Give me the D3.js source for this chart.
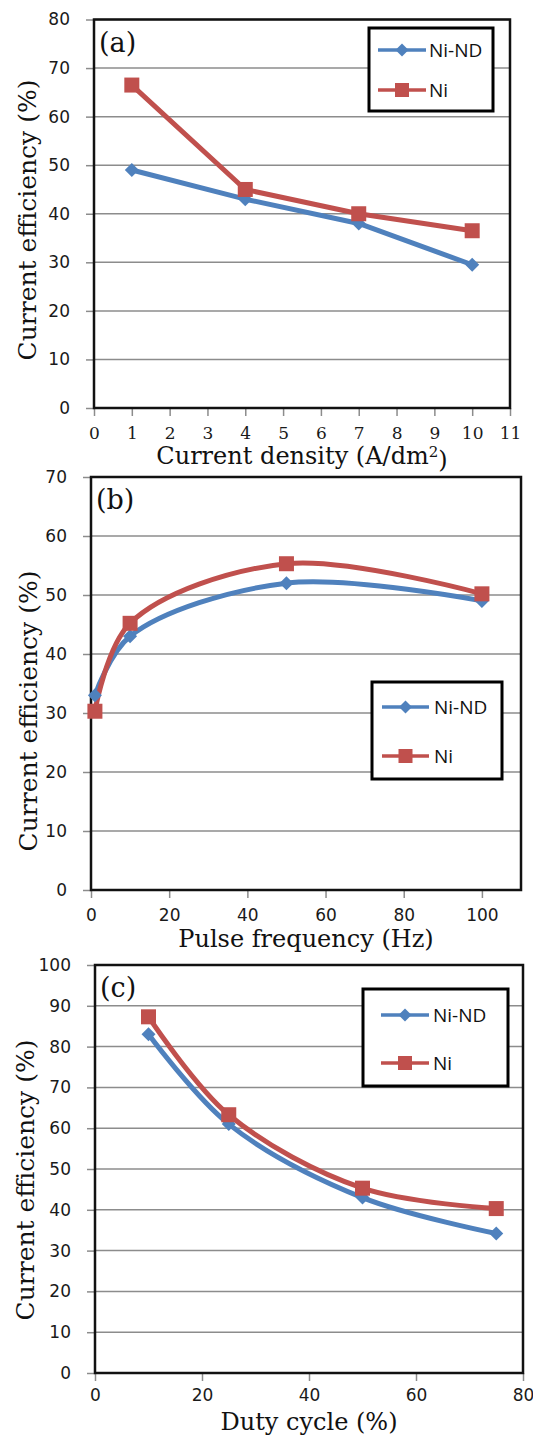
<!DOCTYPE html>
<html lang="en">
<head>
<meta charset="UTF-8">
<title>Current efficiency vs density, frequency and duty cycle</title>
<script src="https://d3js.org/d3.v7.min.js"></script>
<style>
  body { margin: 0; background: #fff; }
  svg { display: block; }
</style>
</head>
<body>
<svg width="533" height="1436"></svg>
<script>
// series names and colours
const seriesNames = ["Ni-ND", "Ni"];
const seriesColors = ["#4f81bd", "#c0504d"];

// (a) current density
const densityX = [1, 4, 7, 10];
const densityNiND = [49, 43, 38, 29.5];
const densityNi = [66.5, 45, 40, 36.5];
const densityTicks = [0, 1, 2, 3, 4, 5, 6, 7, 8, 9, 10, 11];
const densityYTicks = [0, 10, 20, 30, 40, 50, 60, 70, 80];

// (b) pulse frequency
const freqX = [1, 10, 50, 100];
const freqNiND = [33, 43, 52, 49];
const freqNi = [30.3, 45.2, 55.3, 50.2];
const freqTicks = [0, 20, 40, 60, 80, 100];
const freqYTicks = [0, 10, 20, 30, 40, 50, 60, 70];

// (c) duty cycle
const dutyX = [10, 25, 50, 75];
const dutyNiND = [83, 61, 43, 34.2];
const dutyNi = [87.3, 63.3, 45.3, 40.3];
const dutyTicks = [0, 20, 40, 60, 80];
const dutyYTicks = [0, 10, 20, 30, 40, 50, 60, 70, 80, 90, 100];

const svg = d3.select("svg");

const panels = [
  { tag: "(a)", x: densityX, ys: [densityNiND, densityNi], xTicks: densityTicks, yTicks: densityYTicks,
    xMax: 11, yMax: 80, box: { l: 94, r: 510, t: 19.5, b: 408 }, smooth: false, serifX: true,
    xTitle: "Current density (A/dm", sup: "2", xTitleY: 464, yTitleX: 36, yTitleY: 220, xPad: 11,
    legend: { l: 369, r: 493, t: 28, b: 111, rows: [50, 90], lineX: [378, 426], textX: 429 } },
  { tag: "(b)", x: freqX, ys: [freqNiND, freqNi], xTicks: freqTicks, yTicks: freqYTicks,
    xMax: 110, yMax: 70, box: { l: 91, r: 521, t: 477, b: 890 }, smooth: true, serifX: false,
    xTitle: "Pulse frequency (Hz)", xTitleY: 947, yTitleX: 37, yTitleY: 711, xPad: 11,
    legend: { l: 372, r: 502, t: 682, b: 779, rows: [707, 756], lineX: [382, 429], textX: 434 } },
  { tag: "(c)", x: dutyX, ys: [dutyNiND, dutyNi], xTicks: dutyTicks, yTicks: dutyYTicks,
    xMax: 80, yMax: 100, box: { l: 95, r: 523, t: 965, b: 1373 }, smooth: true, serifX: false,
    xTitle: "Duty cycle (%)", xTitleY: 1430, yTitleX: 34, yTitleY: 1180, xPad: 8,
    legend: { l: 363, r: 508, t: 989, b: 1086, rows: [1015, 1063], lineX: [381, 429], textX: 433 } }
];

function marker(sel, i, size) {
  if (i === 0) {
    const h = size / 2;
    sel.append("path").attr("d", `M0,${-h}L${h},0L0,${h}L${-h},0Z`).attr("fill", seriesColors[0]);
  } else {
    sel.append("rect").attr("x", -size / 2).attr("y", -size / 2)
      .attr("width", size).attr("height", size).attr("fill", seriesColors[1]);
  }
}

panels.forEach(p => {
  const b = p.box;
  const x = d3.scaleLinear().domain([0, p.xMax]).range([b.l, b.r]);
  const y = d3.scaleLinear().domain([0, p.yMax]).range([b.b, b.t]);
  const g = svg.append("g");

  // gridlines
  g.selectAll(".grid").data(p.yTicks).join("line")
    .attr("x1", b.l).attr("x2", b.r)
    .attr("y1", d => y(d)).attr("y2", d => y(d))
    .attr("stroke", "#8c8c8c").attr("stroke-width", 1.5);

  // axes
  const ya = g.append("g").attr("transform", `translate(${b.l},0)`)
    .call(d3.axisLeft(y).tickValues(p.yTicks).tickSize(8).tickPadding(16));
  ya.select(".domain").remove();
  ya.selectAll("line").attr("stroke", "#8c8c8c").attr("stroke-width", 1.5);
  ya.selectAll("text").attr("font-family", "'DejaVu Sans', sans-serif")
    .attr("font-size", 17).attr("fill", "#1a1a1a");

  const xa = g.append("g").attr("transform", `translate(0,${b.b})`)
    .call(d3.axisBottom(x).tickValues(p.xTicks).tickSize(8).tickPadding(p.xPad));
  xa.select(".domain").remove();
  xa.selectAll("line").attr("stroke", "#8c8c8c").attr("stroke-width", 1.5);
  xa.selectAll("text")
    .attr("font-family", p.serifX ? "'DejaVu Serif', serif" : "'DejaVu Sans', sans-serif")
    .attr("font-size", 17).attr("fill", "#1a1a1a");

  // frame
  g.append("rect").attr("x", b.l).attr("y", b.t)
    .attr("width", b.r - b.l).attr("height", b.b - b.t)
    .attr("fill", "none").attr("stroke", "#111").attr("stroke-width", 2.5);

  // series
  const line = d3.line()
    .x(d => x(d[0])).y(d => y(d[1]))
    .curve(p.smooth ? d3.curveCatmullRom.alpha(0.5) : d3.curveLinear);
  p.ys.forEach((vals, i) => {
    const pts = p.x.map((v, k) => [v, vals[k]]);
    g.append("path").datum(pts).attr("d", line)
      .attr("fill", "none").attr("stroke", seriesColors[i])
      .attr("stroke-width", 5).attr("stroke-linejoin", "round");
  });
  p.ys.forEach((vals, i) => {
    p.x.forEach((v, k) => {
      const m = g.append("g").attr("transform", `translate(${x(v)},${y(vals[k])})`);
      marker(m, i, i === 0 ? 14 : 15);
    });
  });

  // panel tag
  g.append("text").attr("x", b.l + 5).attr("y", b.t + 32)
    .attr("font-family", "'DejaVu Serif', serif").attr("font-size", 27)
    .attr("fill", "#111").text(p.tag);

  // legend
  const L = p.legend;
  g.append("rect").attr("x", L.l).attr("y", L.t)
    .attr("width", L.r - L.l).attr("height", L.b - L.t)
    .attr("fill", "#fff").attr("stroke", "#000").attr("stroke-width", 3);
  seriesNames.forEach((name, i) => {
    const ry = L.rows[i];
    g.append("line").attr("x1", L.lineX[0]).attr("x2", L.lineX[1])
      .attr("y1", ry).attr("y2", ry)
      .attr("stroke", seriesColors[i]).attr("stroke-width", 3.5);
    const m = g.append("g").attr("transform", `translate(${(L.lineX[0] + L.lineX[1]) / 2},${ry})`);
    marker(m, i, i === 0 ? 13 : 14);
    g.append("text").attr("x", L.textX).attr("y", ry).attr("dy", "0.35em")
      .attr("font-family", "'Open Sans', sans-serif").attr("font-size", 19)
      .attr("fill", "#111").text(name);
  });

  // axis titles
  const xt = g.append("text").attr("x", (b.l + b.r) / 2).attr("y", p.xTitleY)
    .attr("text-anchor", "middle").attr("font-family", "'DejaVu Serif', serif")
    .attr("font-size", 24).attr("fill", "#111").text(p.xTitle);
  if (p.sup) {
    xt.append("tspan").attr("dy", "-0.45em").attr("font-size", 15).text(p.sup);
    xt.append("tspan").attr("dy", "0.45em").text(")");
  }
  g.append("text").attr("transform", `translate(${p.yTitleX},${p.yTitleY}) rotate(-90)`)
    .attr("text-anchor", "middle").attr("font-family", "'DejaVu Serif', serif")
    .attr("font-size", 25).attr("fill", "#111").text("Current efficiency (%)");
});
</script>
</body>
</html>
